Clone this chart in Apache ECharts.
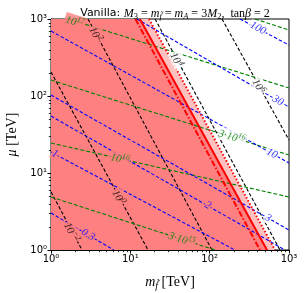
<!DOCTYPE html>
<html><head><meta charset="utf-8">
<script src="https://cdn.jsdelivr.net/npm/echarts@6/dist/echarts.min.js"></script>
<style>html,body{margin:0;padding:0;background:#fff}#c{width:305px;height:293px}</style>
</head><body><div id="c"></div><script>
// ---- data (m_f in TeV, mu in TeV) ----
const xTickValues=[1,10,100,1000];
const xTickLabels=['10⁰','10¹','10²','10³'];
const yTickValues=[1,10,100,1000];
const yTickLabels=['10⁰','10¹','10²','10³'];
const minorTickValues=[2,3,4,5,6,7,8,9,20,30,40,50,60,70,80,90,200,300,400,500,600,700,800,900];

const redDashDot=[[11.6,1000],[431,1]];
const redSolid=[[13.2,1000],[528,1]];
const redDotted=[[17.2,1000],[666,1]];

const blackLevels=['−2','0','2','4','6'];
const blackLines=[
 [[1,5.7],[2.46,1]],
 [[1,205],[16.7,1]],
 [[2.93,1000],[107,1]],
 [[20.5,1000],[770,1]],
 [[143,1000],[1000,26.8]]
];
const blackLabelAt=[[1.84,1.72],[7.2,4.9],[3.69,643],[38.7,298],[419,135]];

const blueLevels=['0.3','1','2','3','10','30','100'];
const blueLines=[
 [[1,3.02],[6.2,1]],
 [[1,18.7],[208,1]],
 [[1,55],[891,1]],
 [[1,103],[1000,1.82]],
 [[1,698],[1000,13.5]],
 [[12.1,1000],[1000,72]],
 [[241,1000],[1000,459]]
];
const blueLabelAt=[[2.93,1.58],[1.12,17.6],[95,3.8],[544,2.6],[611,17.9],[727,87],[407,760]];

const greenMant=['3·','','3·','','3·'];
const greenExp=['17','17','16','16','15'];
const greenLines=[
 [[373,1000],[1000,719]],
 [[1.64,1000],[1000,127]],
 [[1,161],[1000,17.1]],
 [[1,24.5],[1000,4.88]],
 [[1,4.88],[117,1]]
];
const greenLabelAt=[null,[2.0,930],[191,30],[7.41,15.5],[44.8,1.4]];

// ---- helpers ----
const L=Math.log10;
function boundaryX(line,y){
  const [a,b]=line; const t=(L(a[1])-L(y))/(L(a[1])-L(b[1]));
  return L(a[0])+t*(L(b[0])-L(a[0]));
}
function bgAt(p){
  if(L(p[0])<boundaryX(redSolid,p[1])) return '#ff8080';
  if(L(p[0])<boundaryX(redDotted,p[1])) return '#ffc0c0';
  return '#ffffff';
}
const mathFont='Liberation Serif';
function lineS(pts,color,type,width,z){
  return {type:'line',data:pts,symbol:'none',showSymbol:false,silent:true,animation:false,clip:true,z:z||3,
    lineStyle:{color:color,width:width,type:type}};
}
function polyS(pts,color,z){
  return {type:'custom',silent:true,animation:false,z:z,clip:true,data:[0],
    renderItem:function(params,api){
      return {type:'polygon',shape:{points:pts.map(p=>api.coord(p))},style:{fill:color}};
    }};
}
const chart=echarts.init(document.getElementById('c'),null,{renderer:'canvas'});

function richFor(color){
  return {b:{fontFamily:mathFont,fontStyle:'italic',fontSize:11,color:color,lineHeight:13,verticalAlign:'bottom'},
          s:{fontFamily:mathFont,fontStyle:'italic',fontSize:8,color:color,lineHeight:13,verticalAlign:'top'}};
}
function buildLabels(rot){
  const items=[];
  blackLines.forEach((ln,i)=>{items.push({value:blackLabelAt[i],
    label:{formatter:'{b|10}{s|'+blackLevels[i]+'}',rotate:rot.black[i],backgroundColor:bgAt(blackLabelAt[i]),rich:richFor('#000')}});});
  blueLines.forEach((ln,i)=>{items.push({value:blueLabelAt[i],
    label:{formatter:blueLevels[i],rotate:rot.blue[i],color:'#0000ff',fontFamily:mathFont,fontStyle:'italic',fontSize:11,backgroundColor:bgAt(blueLabelAt[i])}});});
  greenLines.forEach((ln,i)=>{ if(!greenLabelAt[i]) return; items.push({value:greenLabelAt[i],
    label:{formatter:'{b|'+greenMant[i]+'10}{s|'+greenExp[i]+'}',rotate:rot.green[i],backgroundColor:bgAt(greenLabelAt[i]),rich:richFor('#008000')}});});
  return items;
}

const series=[];
series.push(polyS([[1,1],[1,1000],redDotted[0],redDotted[1]],'#ffc0c0',1));
series.push(polyS([[1,1],[1,1000],redSolid[0],redSolid[1]],'#ff8080',2));
blackLines.forEach(l=>series.push(lineS(l,'#000',[3.5,2],1.1,3)));
greenLines.forEach(l=>series.push(lineS(l,'#008000',[4,2],1.1,3)));
blueLines.forEach(l=>series.push(lineS(l,'#0000ff',[3.5,2],1.1,3)));
series.push(lineS(redDashDot,'#ff0000',[6,2,1.5,2],2,4));
series.push(lineS(redSolid,'#ff0000','solid',2,4));
series.push(lineS(redDotted,'#ff0000',[1.5,2],2,4));
series.push({type:'custom',silent:true,animation:false,clip:false,z:7,data:minorTickValues,
  renderItem:function(params,api){
    const v=api.value(0);
    const px=api.coord([v,1]); const py=api.coord([1,v]);
    const st={stroke:'#000',lineWidth:0.8};
    return {type:'group',children:[
      {type:'line',shape:{x1:Math.round(px[0])+0.5,y1:px[1],x2:Math.round(px[0])+0.5,y2:px[1]+2.2},style:st},
      {type:'line',shape:{x1:py[0],y1:Math.round(py[1])+0.5,x2:py[0]-2.2,y2:Math.round(py[1])+0.5},style:st}
    ]};
  },encode:{x:0}});
const zeroRot={black:blackLines.map(()=>0),blue:blueLines.map(()=>0),green:greenLines.map(()=>0)};
series.push({type:'scatter',symbolSize:0,silent:true,animation:false,z:6,data:buildLabels(zeroRot),
  label:{show:true,position:'inside',padding:[0,1]}});

const tickLabel=(vals,labs)=>v=>{const i=vals.findIndex(t=>Math.abs(t-v)<1e-6*t);return i>=0?labs[i]:'';};
const axisCommon={type:'log',logBase:10,min:1,max:1000,
  axisLine:{show:true,lineStyle:{color:'#000',width:1}},
  axisTick:{show:true,inside:false,length:3.5,lineStyle:{color:'#000'}},
  minorTick:{show:false},
  splitLine:{show:false},minorSplitLine:{show:false}};

chart.setOption({
  animation:false,
  backgroundColor:'#fff',
  title:{left:170,top:1,textAlign:'center',
    text:'{s|Vanilla: }{i|M}{d|3}{r| = }{i|m}{di|f̃}{r| = }{i|m}{di|A}{r| = 3}{i|M}{d|2}{r|,  tan}{i|β}{r| = 2}',
    textStyle:{fontWeight:'normal',rich:{
      s:{fontFamily:'DejaVu Sans',fontSize:11,fontWeight:'normal',color:'#000',lineHeight:15},
      i:{fontFamily:mathFont,fontStyle:'italic',fontWeight:'normal',fontSize:12,color:'#000',lineHeight:15},
      r:{fontFamily:mathFont,fontWeight:'normal',fontSize:12,color:'#000',lineHeight:15},
      d:{fontFamily:mathFont,fontWeight:'normal',fontSize:8.5,color:'#000',lineHeight:15,verticalAlign:'bottom'},
      di:{fontFamily:mathFont,fontStyle:'italic',fontWeight:'normal',fontSize:8.5,color:'#000',lineHeight:15,verticalAlign:'bottom'}}}},
  grid:{left:51,right:16,top:19,bottom:43,show:true,borderColor:'#000',borderWidth:1,backgroundColor:'transparent',
    containLabel:false,outerBoundsMode:'none'},
  xAxis:Object.assign({},axisCommon,{
    axisLabel:{formatter:tickLabel(xTickValues,xTickLabels),color:'#000',fontSize:10,fontFamily:'DejaVu Sans',margin:4},
    name:'{i|m}{di|f̃}{r| [TeV]}',nameLocation:'middle',nameGap:24,
    nameTextStyle:{rich:{i:{fontFamily:mathFont,fontStyle:'italic',fontSize:14,color:'#000',lineHeight:17},
      di:{fontFamily:mathFont,fontStyle:'italic',fontSize:10,color:'#000',lineHeight:17,verticalAlign:'bottom'},
      r:{fontFamily:mathFont,fontSize:14,color:'#000',lineHeight:17}}}}),
  yAxis:Object.assign({},axisCommon,{
    axisLabel:{formatter:tickLabel(yTickValues,yTickLabels),color:'#000',fontSize:10,fontFamily:'DejaVu Sans',margin:4},
    name:'{i|μ}{r| [TeV]}',nameLocation:'middle',nameGap:31,nameRotate:90,
    nameTextStyle:{rich:{i:{fontFamily:mathFont,fontStyle:'italic',fontSize:14,color:'#000'},
      r:{fontFamily:mathFont,fontSize:14,color:'#000'}}}}),
  series:series
});

function ang(l){const a=chart.convertToPixel({gridIndex:0},l[0]),b=chart.convertToPixel({gridIndex:0},l[1]);
  return -Math.atan2(b[1]-a[1],b[0]-a[0])*180/Math.PI;}
const rot={black:blackLines.map(ang),blue:blueLines.map(ang),green:greenLines.map(ang)};
series[series.length-1].data=buildLabels(rot);
chart.setOption({series:series});
</script></body></html>
